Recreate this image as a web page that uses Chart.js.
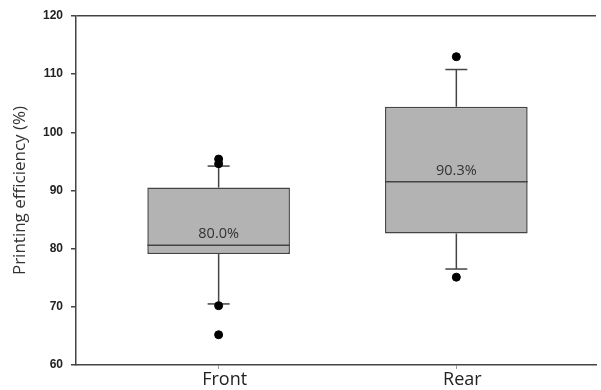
<!DOCTYPE html>
<html>
<head>
<meta charset="utf-8">
<script src="https://cdn.jsdelivr.net/npm/chart.js@4.4.1/dist/chart.umd.min.js"></script>
<style>
  html, body { margin: 0; padding: 0; background: #fff; }
  #wrap { width: 601px; height: 390px; }
</style>
</head>
<body>
<div id="wrap"><canvas id="chart"></canvas></div>
<script>
// box plot values
const categories = ['Front', 'Rear'];
const positions = [1, 2];
const q1 = [79.1, 82.6];
const q3 = [90.5, 104.4];
const medians = [80.6, 91.5];
const whiskerLow = [70.5, 76.5];
const whiskerHigh = [94.2, 110.8];
const outliersFront = [95.4, 94.6, 70.2, 65.2];
const outliersRear = [113.0, 75.1];
const medianLabels = ['80.0%', '90.3%'];
const yTicks = [60, 70, 80, 90, 100, 110, 120];

const lineColor = '#444';

// whiskers and caps go under the boxes, medians + labels on top
const boxExtras = {
  id: 'boxExtras',
  beforeDatasetsDraw(chart) {
    const { ctx } = chart;
    const x = chart.scales.x, y = chart.scales.y;
    ctx.save();
    ctx.strokeStyle = lineColor;
    ctx.lineWidth = 1.5;
    positions.forEach((p, i) => {
      const px = x.getPixelForValue(p);
      const capHalf = 11;
      [[q3[i], whiskerHigh[i]], [q1[i], whiskerLow[i]]].forEach(([a, b]) => {
        ctx.beginPath();
        ctx.moveTo(px, y.getPixelForValue(a));
        ctx.lineTo(px, y.getPixelForValue(b));
        ctx.stroke();
        ctx.beginPath();
        ctx.moveTo(px - capHalf, y.getPixelForValue(b));
        ctx.lineTo(px + capHalf, y.getPixelForValue(b));
        ctx.stroke();
      });
    });
    ctx.restore();
  },
  afterDatasetsDraw(chart) {
    const { ctx } = chart;
    const y = chart.scales.y;
    const meta = chart.getDatasetMeta(0);
    ctx.save();
    meta.data.forEach((bar, i) => {
      const half = bar.width / 2;
      const py = y.getPixelForValue(medians[i]);
      ctx.strokeStyle = lineColor;
      ctx.lineWidth = 1.5;
      ctx.beginPath();
      ctx.moveTo(bar.x - half, py);
      ctx.lineTo(bar.x + half, py);
      ctx.stroke();
      ctx.fillStyle = '#333';
      ctx.font = '14.5px "Open Sans", sans-serif';
      ctx.textAlign = 'center';
      ctx.textBaseline = 'middle';
      ctx.fillText(medianLabels[i], bar.x, py - 11);
    });
    ctx.restore();
  }
};

const boxData = positions.map((p, i) => ({ x: p, y: [q1[i], q3[i]] }));
const outlierData = [
  ...outliersFront.map(v => ({ x: positions[0], y: v })),
  ...outliersRear.map(v => ({ x: positions[1], y: v }))
];

new Chart(document.getElementById('chart').getContext('2d'), {
  type: 'bar',
  data: {
    datasets: [
      {
        type: 'bar',
        label: 'Box',
        data: boxData,
        backgroundColor: '#b3b3b3',
        borderColor: lineColor,
        borderWidth: 1.5,
        borderSkipped: false,
        barPercentage: 0.6,
        categoryPercentage: 1
      },
      {
        type: 'scatter',
        label: 'Outliers',
        data: outlierData,
        backgroundColor: '#000',
        borderColor: '#000',
        pointRadius: 4,
        showLine: false
      }
    ]
  },
  options: {
    responsive: true,
    maintainAspectRatio: false,
    animation: false,
    layout: { padding: { top: 16, left: 6, right: 0, bottom: 0 } },
    plugins: {
      legend: { display: false },
      tooltip: { enabled: false }
    },
    scales: {
      x: {
        type: 'linear',
        min: 0.4,
        max: 2.5875,
        offset: false,
        afterBuildTicks: (scale) => { scale.ticks = positions.map(v => ({ value: v })); },
        afterFit: (scale) => { scale.height = 25; },
        ticks: {
          callback: (v) => categories[positions.indexOf(v)],
          color: '#222',
          font: { family: '"Open Sans", sans-serif', size: 18 },
          padding: 0,
          labelOffset: 6,
          maxRotation: 0
        },
        grid: { display: true, drawOnChartArea: false, offset: false, tickLength: 4, tickColor: '#999' },
        border: { color: lineColor, width: 1.5 }
      },
      y: {
        min: 60,
        max: 120,
        afterBuildTicks: (scale) => { scale.ticks = yTicks.map(v => ({ value: v })); },
        afterFit: (scale) => { scale.width = 70; },
        ticks: {
          color: '#222',
          font: { family: '"Liberation Sans", Arial, sans-serif', size: 12, weight: 'bold' },
          padding: 8
        },
        grid: {
          drawOnChartArea: true,
          tickLength: 5,
          tickColor: lineColor,
          lineWidth: 1.5,
          color: (c) => (c.tick && c.tick.value === 120 ? lineColor : 'rgba(0,0,0,0)')
        },
        border: { color: lineColor, width: 1.5 },
        title: {
          display: true,
          text: 'Printing efficiency (%)',
          color: '#333',
          font: { family: '"Open Sans", sans-serif', size: 17 }
        }
      }
    }
  },
  plugins: [boxExtras]
});
</script>
</body>
</html>
